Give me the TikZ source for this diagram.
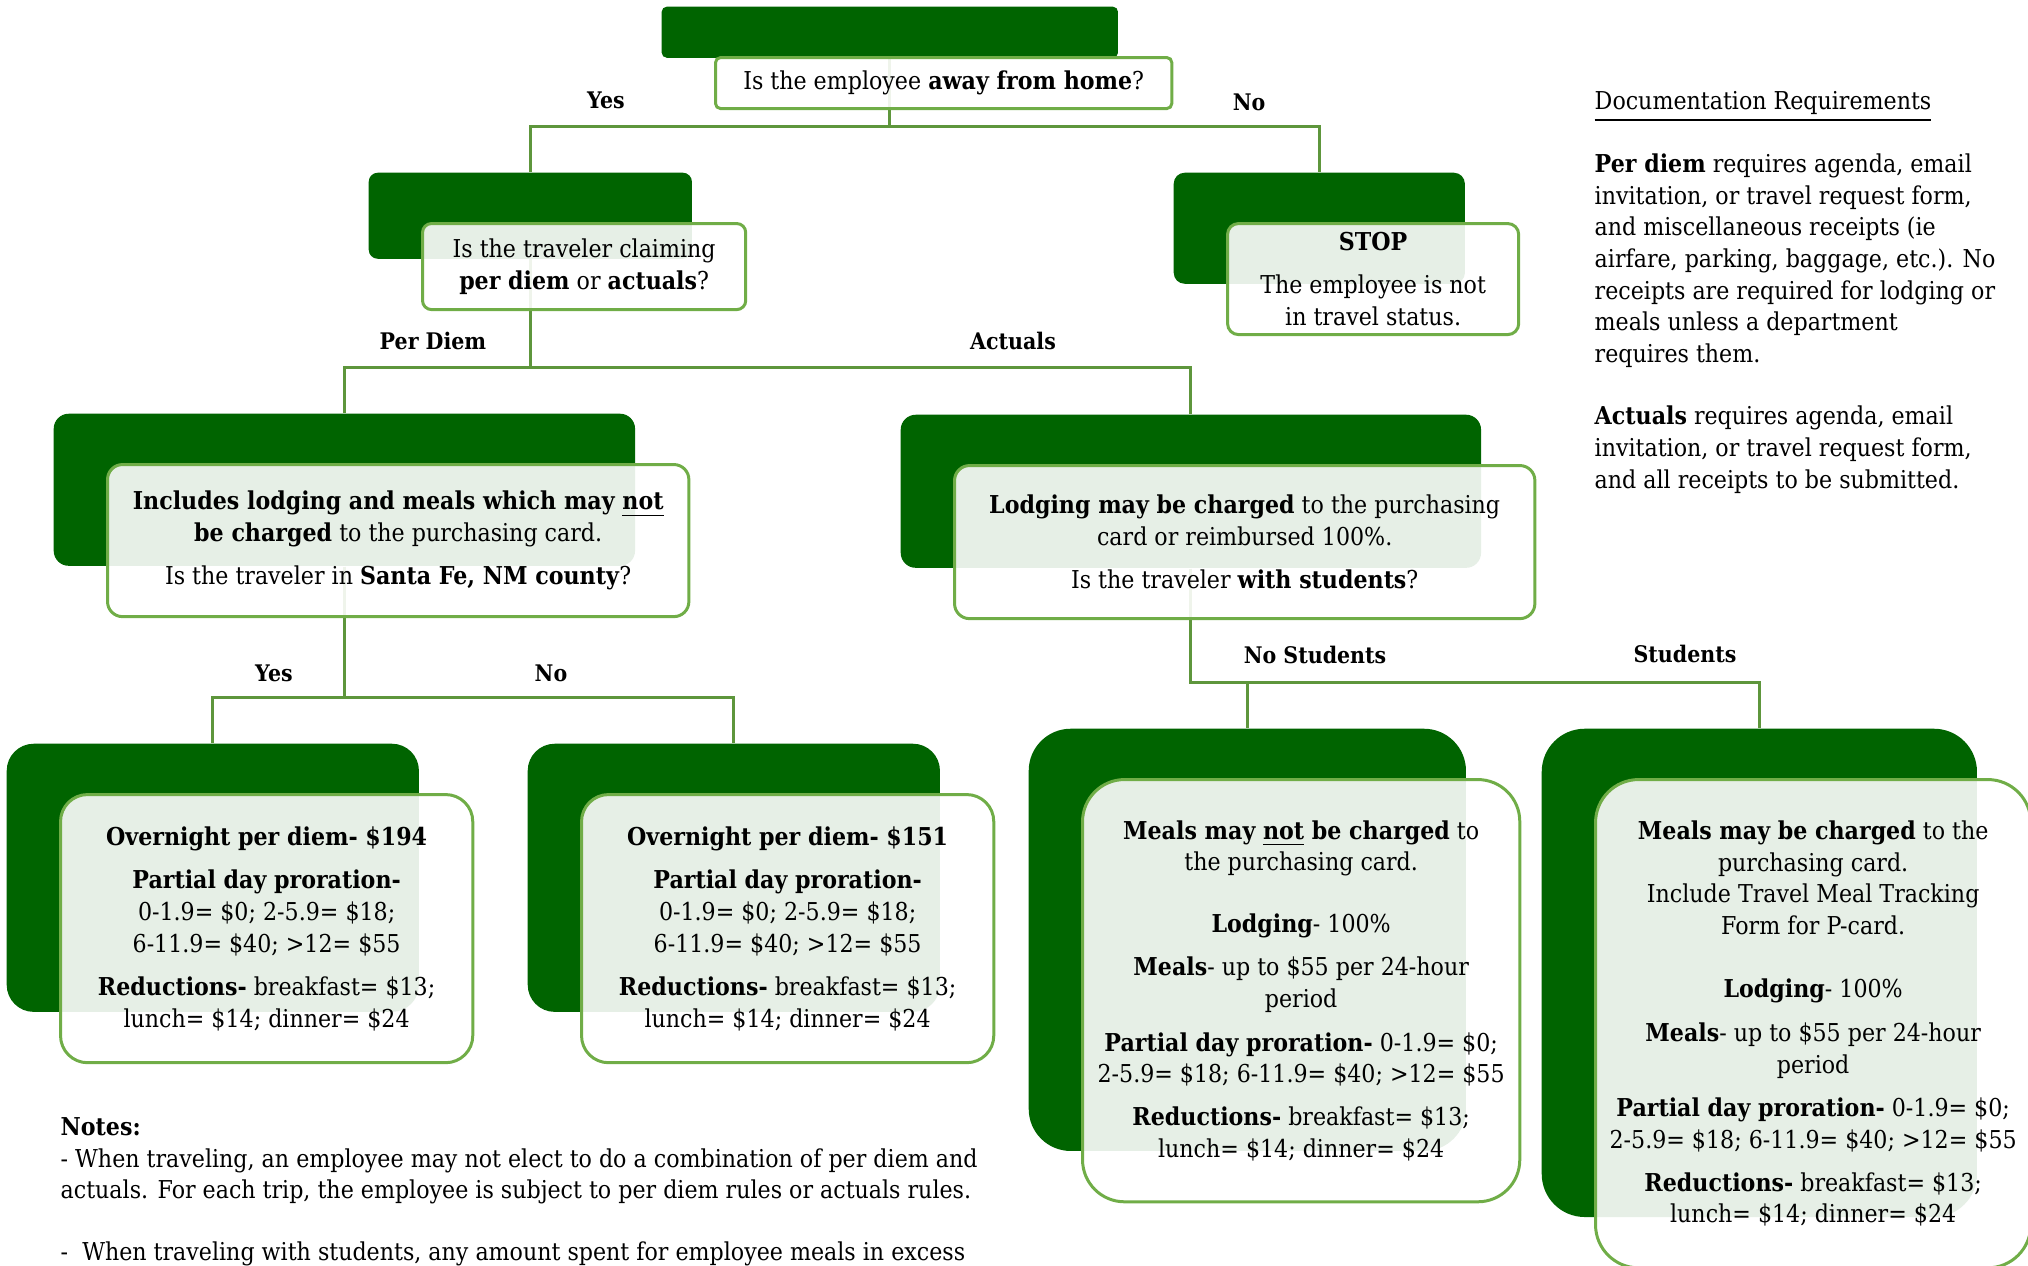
\documentclass[tikz,border=0pt]{standalone}
\usepackage{fontspec}
\setmainfont{DejaVu Serif}[FakeStretch=0.9]
\usetikzlibrary{positioning}
\definecolor{tgdark}{RGB}{0,100,0}
\definecolor{tgline}{RGB}{112,173,71}
\definecolor{tglink}{RGB}{94,150,60}
\newcommand\tgbody{\fontsize{7}{9}\selectfont}
\newcommand\tglabel{\fontsize{6.5}{8}\selectfont\bfseries}

\tikzset{
  back/.style={fill=tgdark, anchor=north west, inner sep=0pt},
  card/.style={draw=tgline, line width=0.85pt, fill=white, fill opacity=0.9,
               text opacity=1, align=center, inner sep=0pt, font=\tgbody},
  link/.style={draw=tglink, line width=0.8pt},
  branch/.style={font=\tglabel},
}

\begin{document}
\begin{tikzpicture}[x=0.01cm, y=-0.01cm]
  \useasboundingbox (0,0) rectangle (2028,1265);
  % dark back panels
  \foreach \nm/\x/\y/\w/\h/\r in {top/661/6/4.56cm/0.51cm/0.05cm,
      perq/368/172/3.23cm/0.86cm/0.09cm, stop/1173/172/2.91cm/1.11cm/0.11cm,
      pdm/53/413/5.81cm/1.52cm/0.15cm, act/900/414/5.80cm/1.53cm/0.15cm,
      sfy/6/743/4.12cm/2.68cm/0.27cm, sfn/527/743/4.12cm/2.68cm/0.27cm,
      nost/1028/728/4.37cm/4.22cm/0.42cm, stud/1541/728/4.35cm/4.88cm/0.43cm} {
    \node[back, minimum width=\w, minimum height=\h, rounded corners=\r] (\nm) at (\x,\y) {};
  }
  % branches
  \draw[link] (top.south) -- ++(0,68) -| (perq.north);
  \draw[link] (top.south) -- ++(0,68) -| (stop.north);
  \draw[link] (perq.south) -- ++(0,108) -| (pdm.north);
  \draw[link] (perq.south) -- ++(0,108) -| (act.north);
  \draw[link] (pdm.south) -- ++(0,131) -| (sfy.north);
  \draw[link] (pdm.south) -- ++(0,131) -| (sfn.north);
  \draw[link] (act.south) -- ++(0,114) -| (nost.north);
  \draw[link] (act.south) -- ++(0,114) -| (stud.north);
  \node[branch] (yes1) at (606,100) {Yes};
  \node[branch] (no1) at (1249,102) {No};
  \node[branch] (pdlab) at (433,341) {Per Diem};
  \node[branch] (aclab) at (1013,341) {Actuals};
  \node[branch] (yes2) at (274,673) {Yes};
  \node[branch] (no2) at (551,673) {No};
  \node[branch] (nslab) at (1315,655) {No Students};
  \node[branch] (stlab) at (1685,654) {Students};
  % front cards
  \node[card, minimum width=4.56cm, minimum height=0.51cm, rounded corners=0.05cm,
        below right=0.5cm and 0.53cm of top.north west] (topq)
        {Is the employee \textbf{away from home}?};
  \node[card, minimum width=3.23cm, minimum height=0.86cm, rounded corners=0.09cm,
        below right=0.5cm and 0.53cm of perq.north west] (perqc)
        {Is the traveler claiming\\ \textbf{per diem} or \textbf{actuals}?};
  \node[card, minimum width=2.91cm, minimum height=1.11cm, rounded corners=0.11cm,
        below right=0.5cm and 0.53cm of stop.north west] (stopc)
        {\textbf{STOP}\\[3.2pt] The employee is not\\ in travel status.};
  \node[card, minimum width=5.81cm, minimum height=1.52cm, rounded corners=0.15cm,
        below right=0.5cm and 0.53cm of pdm.north west] (pdmc)
        {\textbf{Includes lodging and meals which may \underline{not}}\\
         \textbf{be charged} to the purchasing card.\\[3.2pt]
         Is the traveler in \textbf{Santa Fe, NM county}?};
  \node[card, minimum width=5.80cm, minimum height=1.53cm, rounded corners=0.15cm,
        below right=0.5cm and 0.53cm of act.north west] (actc)
        {\textbf{Lodging may be charged} to the purchasing\\
         card or reimbursed 100\%.\\[3.2pt]
         Is the traveler \textbf{with students}?};
  \node[card, minimum width=4.12cm, minimum height=2.68cm, rounded corners=0.27cm,
        below right=0.5cm and 0.53cm of sfy.north west] (sfyc)
        {\textbf{Overnight per diem- \$194}\\[3.4pt]
         \textbf{Partial day proration-}\\ 0-1.9= \$0; 2-5.9= \$18;\\ 6-11.9= \$40; >12= \$55\\[3.4pt]
         \textbf{Reductions-} breakfast= \$13;\\ lunch= \$14; dinner= \$24};
  \node[card, minimum width=4.12cm, minimum height=2.68cm, rounded corners=0.27cm,
        below right=0.5cm and 0.53cm of sfn.north west] (sfnc)
        {\textbf{Overnight per diem- \$151}\\[3.4pt]
         \textbf{Partial day proration-}\\ 0-1.9= \$0; 2-5.9= \$18;\\ 6-11.9= \$40; >12= \$55\\[3.4pt]
         \textbf{Reductions-} breakfast= \$13;\\ lunch= \$14; dinner= \$24};
  \node[card, minimum width=4.37cm, minimum height=4.22cm, rounded corners=0.42cm,
        below right=0.5cm and 0.53cm of nost.north west] (nostc)
        {\textbf{Meals may \underline{not} be charged} to\\ the purchasing card.\\[8.5pt]
         \textbf{Lodging}- 100\%\\[3.4pt]
         \textbf{Meals}- up to \$55 per 24-hour\\ period\\[3.4pt]
         \textbf{Partial day proration-} 0-1.9= \$0;\\ 2-5.9= \$18; 6-11.9= \$40; >12= \$55\\[3.2pt]
         \textbf{Reductions-} breakfast= \$13;\\ lunch= \$14; dinner= \$24};
  \node[card, minimum width=4.35cm, minimum height=4.88cm, rounded corners=0.43cm,
        below right=0.5cm and 0.53cm of stud.north west] (studc)
        {\textbf{Meals may be charged} to the\\ purchasing card.\\
         Include Travel Meal Tracking\\ Form for P-card.\\[9pt]
         \textbf{Lodging}- 100\%\\[3.4pt]
         \textbf{Meals}- up to \$55 per 24-hour\\ period\\[3.4pt]
         \textbf{Partial day proration-} 0-1.9= \$0;\\ 2-5.9= \$18; 6-11.9= \$40; >12= \$55\\[3.2pt]
         \textbf{Reductions-} breakfast= \$13;\\ lunch= \$14; dinner= \$24};
  % side text
  \node[anchor=north west, align=left, inner sep=0pt, font=\tgbody] (docreq) at (1594,91)
        {\underline{Documentation Requirements}\\[8.8pt]
         \textbf{Per diem} requires agenda, email\\ invitation, or travel request form,\\
         and miscellaneous receipts (ie\\ airfare, parking, baggage, etc.). No\\
         receipts are required for lodging or\\ meals unless a department\\ requires them.\\[8.8pt]
         \textbf{Actuals} requires agenda, email\\ invitation, or travel request form,\\
         and all receipts to be submitted.};
  \node[anchor=north west, align=left, inner sep=0pt, font=\tgbody] (notes) at (60,1117)
        {\textbf{Notes:}\\
         - When traveling, an employee may not elect to do a combination of per diem and\\
         actuals. For each trip, the employee is subject to per diem rules or actuals rules.\\[8.5pt]
         -~ When traveling with students, any amount spent for employee meals in excess};
\end{tikzpicture}
\end{document}
